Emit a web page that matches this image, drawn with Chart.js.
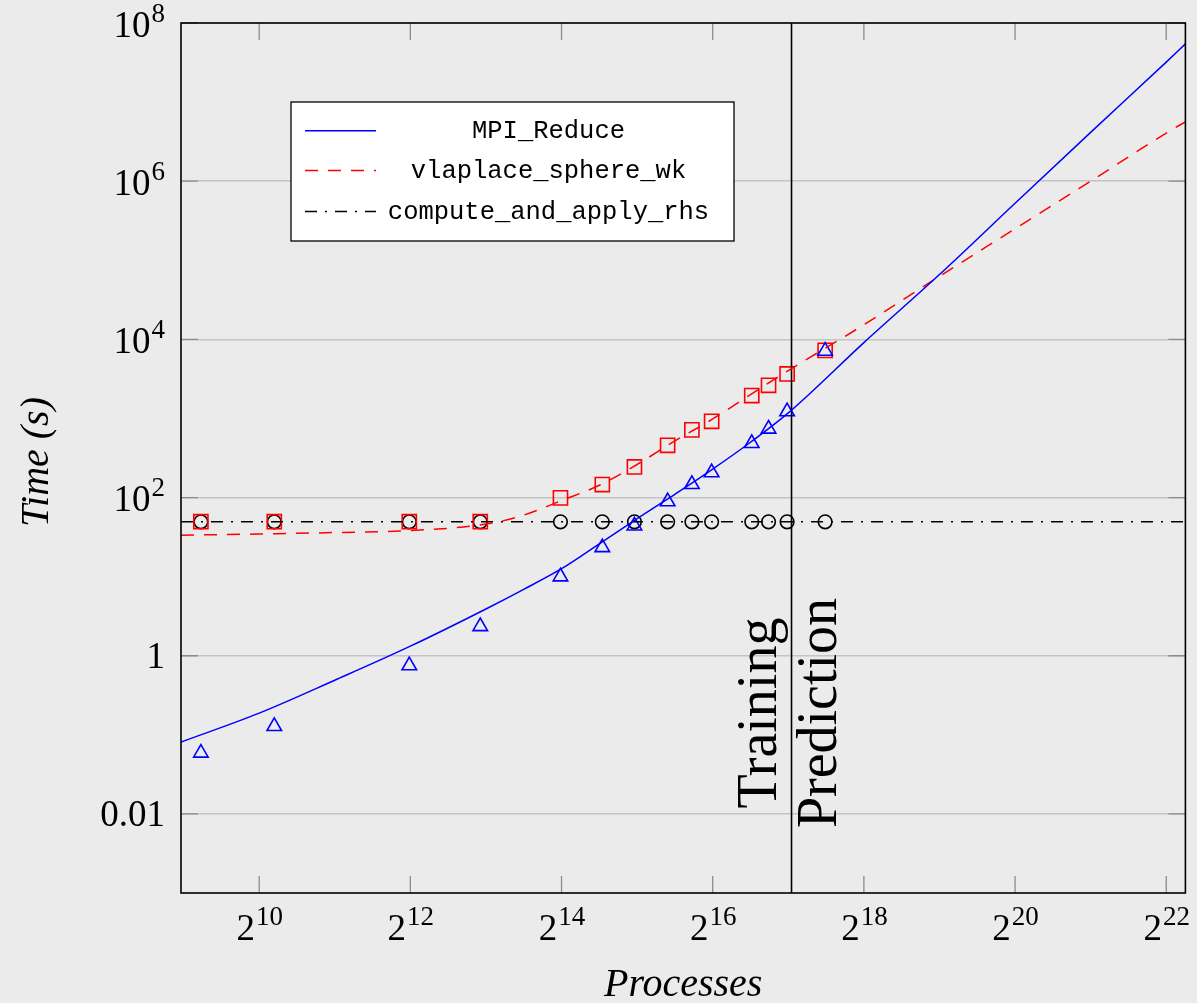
<!DOCTYPE html>
<html>
<head>
<meta charset="utf-8">
<script src="https://cdn.jsdelivr.net/npm/chart.js@4/dist/chart.umd.min.js"></script>
<style>
  html, body { margin: 0; padding: 0; background: #ebebeb; }
  #wrap { width: 1197px; height: 1003px; }
</style>
</head>
<body>
<div id="wrap"><canvas id="timing-chart" width="1197" height="1003"></canvas></div>
<script>
// measured runs (processes, seconds)
const processes = [600, 1176, 4056, 7776, 16224, 23814, 31974, 43350, 54150, 64896, 93750, 109350, 129654, 183750];
const mpiReduce = [0.059, 0.128, 0.75, 2.35, 10.0, 23.4, 44, 89, 147, 207, 485, 738, 1220, 7130];
const vlaplace = [49.5, 49.5, 49.5, 49.5, 99, 146, 244, 458, 717, 920, 1945, 2625, 3656, 7260];
const computeRhs = [49.3, 49.3, 49.3, 49.3, 49.3, 49.3, 49.3, 49.3, 49.3, 49.3, 49.3, 49.3, 49.3, 49.3];

// model curves
const fitProcesses = [500, 1024, 2048, 4096, 8192, 11585, 16384, 23170, 32768, 46341, 65536, 92682, 131072, 262144, 524288, 1048576, 2097152, 4194304, 5000000];
const mpiFit = [0.081, 0.188, 0.49, 1.32, 3.9, 6.9, 12.6, 26, 54, 110, 229, 500, 1175, 9100, 66000, 525000, 4140000, 32000000, 54500000];
const vlaplaceFit = [33.4, 34.6, 36.1, 38.3, 46.2, 60, 91.6, 143, 262, 520, 985, 2005, 4025, 15300, 62700, 250000, 1000000, 4060000, 5630000];
const rhsFitProcesses = [500, 5000000];
const rhsFit = [49.3, 49.3];

const splitAt = 135000; // training / prediction boundary

const xTicks = [1024, 4096, 16384, 65536, 262144, 1048576, 4194304];
const xTickExp = ["10", "12", "14", "16", "18", "20", "22"];
const yTicks = [0.01, 1, 100, 1e4, 1e6, 1e8];
const yTickBase = ["0.01", "1", "10", "10", "10", "10"];
const yTickExp = ["", "", "2", "4", "6", "8"];

const BG = "#ebebeb";
const serif = "'Liberation Serif', 'Times New Roman', serif";
const mono = "'Liberation Mono', 'Courier New', monospace";

const toPoints = (xs, ys) => xs.map((x, i) => ({ x, y: ys[i] }));

const decorations = {
  id: "decorations",
  beforeDraw(chart) {
    const { ctx, width, height } = chart;
    ctx.save();
    ctx.fillStyle = BG;
    ctx.fillRect(0, 0, width, height);
    ctx.restore();
  },
  afterDraw(chart) {
    const { ctx, chartArea: a } = chart;
    const { x, y } = chart.scales;
    ctx.save();

    // inner tick marks
    ctx.strokeStyle = "#8c8c8c";
    ctx.lineWidth = 1.3;
    ctx.beginPath();
    xTicks.forEach((v) => {
      const px = x.getPixelForValue(v);
      ctx.moveTo(px, a.top); ctx.lineTo(px, a.top + 17);
      ctx.moveTo(px, a.bottom); ctx.lineTo(px, a.bottom - 17);
    });
    yTicks.forEach((v) => {
      const py = y.getPixelForValue(v);
      ctx.moveTo(a.left, py); ctx.lineTo(a.left + 17, py);
      ctx.moveTo(a.right, py); ctx.lineTo(a.right - 17, py);
    });
    ctx.stroke();

    // frame
    ctx.strokeStyle = "#000";
    ctx.lineWidth = 1.6;
    ctx.strokeRect(a.left, a.top, a.right - a.left, a.bottom - a.top);

    // tick labels
    ctx.fillStyle = "#000";
    ctx.textBaseline = "alphabetic";
    const baseFont = `37px ${serif}`;
    const supFont = `27px ${serif}`;
    xTicks.forEach((v, i) => {
      const px = x.getPixelForValue(v);
      ctx.font = baseFont;
      const wb = ctx.measureText("2").width;
      ctx.font = supFont;
      const ws = ctx.measureText(xTickExp[i]).width;
      const left = px - (wb + ws) / 2;
      ctx.textAlign = "left";
      ctx.font = baseFont;
      ctx.fillText("2", left, a.bottom + 47);
      ctx.font = supFont;
      ctx.fillText(xTickExp[i], left + wb + 1, a.bottom + 32);
    });
    yTicks.forEach((v, i) => {
      const py = y.getPixelForValue(v);
      const right = a.left - 16;
      ctx.textAlign = "right";
      if (yTickExp[i]) {
        ctx.font = supFont;
        ctx.fillText(yTickExp[i], right, py - 1.3);
        const ws = ctx.measureText(yTickExp[i]).width;
        ctx.font = baseFont;
        ctx.fillText(yTickBase[i], right - ws - 1, py + 13.7);
      } else {
        ctx.font = baseFont;
        ctx.fillText(yTickBase[i], right, py + 12);
      }
    });

    // axis titles
    ctx.font = `italic 40px ${serif}`;
    ctx.textAlign = "center";
    ctx.fillText("Processes", (a.left + a.right) / 2, 996);
    ctx.save();
    ctx.translate(37, 462);
    ctx.rotate(-Math.PI / 2);
    ctx.textBaseline = "middle";
    ctx.fillText("Time (s)", 0, 0);
    ctx.restore();

    // training / prediction labels beside the split line
    const sx = x.getPixelForValue(splitAt);
    ctx.font = `56px ${serif}`;
    [["Training", sx - 16], ["Prediction", sx + 44]].forEach(([txt, bx]) => {
      ctx.save();
      ctx.translate(bx, 713);
      ctx.rotate(-Math.PI / 2);
      ctx.textAlign = "center";
      ctx.fillText(txt, 0, 0);
      ctx.restore();
    });

    // legend box
    const lg = { left: 291, top: 102, right: 734, bottom: 241 };
    ctx.fillStyle = "#fff";
    ctx.fillRect(lg.left, lg.top, lg.right - lg.left, lg.bottom - lg.top);
    ctx.strokeStyle = "#000";
    ctx.lineWidth = 1.3;
    ctx.strokeRect(lg.left, lg.top, lg.right - lg.left, lg.bottom - lg.top);
    const rows = [130.7, 170.5, 211.5];
    ctx.font = `25.5px ${mono}`;
    chart.data.datasets.slice(0, 3).forEach((ds, i) => {
      ctx.strokeStyle = ds.borderColor;
      ctx.lineWidth = ds.borderWidth;
      ctx.setLineDash(ds.borderDash || []);
      ctx.beginPath();
      ctx.moveTo(305, rows[i]);
      ctx.lineTo(376, rows[i]);
      ctx.stroke();
      ctx.setLineDash([]);
      ctx.fillStyle = "#000";
      ctx.textAlign = "center";
      ctx.fillText(ds.label, 548.5, rows[i] + 7);
    });

    ctx.restore();
  },
};

new Chart(document.getElementById("timing-chart"), {
  type: "line",
  data: {
    datasets: [
      {
        label: "MPI_Reduce",
        data: toPoints(fitProcesses, mpiFit),
        borderColor: "#0000ff",
        borderWidth: 1.5,
        pointRadius: 0,
        cubicInterpolationMode: "monotone",
      },
      {
        label: "vlaplace_sphere_wk",
        data: toPoints(fitProcesses, vlaplaceFit),
        borderColor: "#ff0000",
        borderWidth: 1.5,
        borderDash: [13, 10],
        pointRadius: 0,
        cubicInterpolationMode: "monotone",
      },
      {
        label: "compute_and_apply_rhs",
        data: toPoints(rhsFitProcesses, rhsFit),
        borderColor: "#000000",
        borderWidth: 1.5,
        borderDash: [12, 8, 2, 8],
        pointRadius: 0,
      },
      {
        label: "split",
        data: [{ x: splitAt, y: 1e-3 }, { x: splitAt, y: 1e8 }],
        borderColor: "#000000",
        borderWidth: 1.6,
        pointRadius: 0,
      },
      {
        label: "MPI_Reduce runs",
        data: toPoints(processes, mpiReduce),
        showLine: false,
        pointStyle: "triangle",
        pointRadius: 8.4,
        pointBorderWidth: 1.6,
        pointBorderColor: "#0000ff",
        pointBackgroundColor: "rgba(0,0,0,0)",
      },
      {
        label: "vlaplace runs",
        data: toPoints(processes, vlaplace),
        showLine: false,
        pointStyle: "rect",
        pointRadius: 10,
        pointBorderWidth: 1.6,
        pointBorderColor: "#ff0000",
        pointBackgroundColor: "rgba(0,0,0,0)",
      },
      {
        label: "rhs runs",
        data: toPoints(processes, computeRhs),
        showLine: false,
        pointStyle: "circle",
        pointRadius: 6.8,
        pointBorderWidth: 1.6,
        pointBorderColor: "#000000",
        pointBackgroundColor: "rgba(0,0,0,0)",
      },
    ],
  },
  options: {
    responsive: false,
    animation: false,
    events: [],
    layout: { padding: { top: 23, right: 9, left: 0, bottom: 0 } },
    scales: {
      x: {
        type: "logarithmic",
        min: 500,
        max: 5000000,
        grid: { display: false },
        border: { display: false },
        ticks: { display: false },
        afterBuildTicks: (s) => { s.ticks = xTicks.map((value) => ({ value })); },
        afterFit: (s) => { s.height = 110; },
      },
      y: {
        type: "logarithmic",
        min: 1e-3,
        max: 1e8,
        grid: { color: "#c4c4c4", lineWidth: 1.5, drawTicks: false },
        border: { display: false },
        ticks: { display: false },
        afterBuildTicks: (s) => { s.ticks = yTicks.map((value) => ({ value })); },
        afterFit: (s) => { s.width = 181; },
      },
    },
    plugins: {
      legend: { display: false },
      tooltip: { enabled: false },
    },
  },
  plugins: [decorations],
});
</script>
</body>
</html>
